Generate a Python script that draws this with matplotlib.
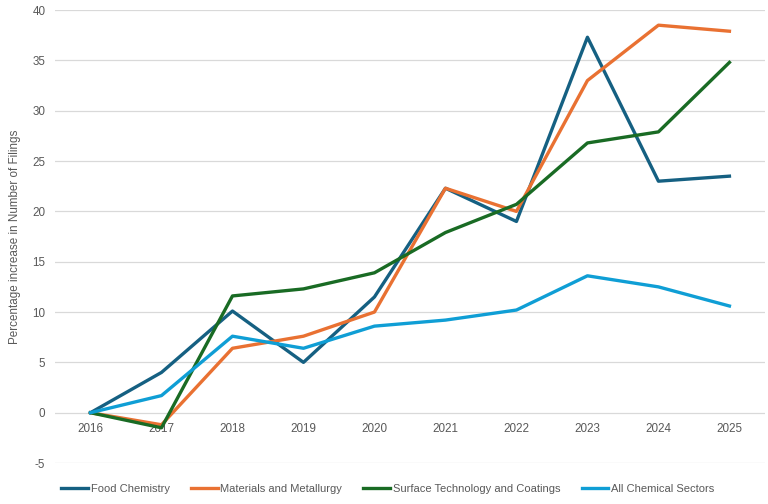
import matplotlib
matplotlib.use("Agg")
import matplotlib.pyplot as plt
import matplotlib.transforms as mtransforms

years = ["2016", "2017", "2018", "2019", "2020", "2021", "2022", "2023", "2024", "2025"]
food_chem = [0, 4.0, 10.1, 5.0, 11.5, 22.3, 19.0, 37.3, 23.0, 23.5]
materials = [0, -1.2, 6.4, 7.6, 10.0, 22.3, 20.0, 33.0, 38.5, 37.9]
surface = [0, -1.5, 11.6, 12.3, 13.9, 17.9, 20.7, 26.8, 27.9, 34.8]
all_chem = [0, 1.7, 7.6, 6.4, 8.6, 9.2, 10.2, 13.6, 12.5, 10.6]

series = [
    ("Food Chemistry", food_chem, "#156082"),
    ("Materials and Metallurgy", materials, "#E97132"),
    ("Surface Technology and Coatings", surface, "#196B24"),
    ("All Chemical Sectors", all_chem, "#0F9ED5"),
]

plt.rcParams["font.family"] = ["Liberation Sans", "DejaVu Sans"]
plt.rcParams["axes.unicode_minus"] = False
grey = "#595959"

fig = plt.figure(figsize=(7.68, 5.04), dpi=100)
ax = fig.add_axes([0.0716, 0.0813, 0.9244, 0.8987])

x = range(len(years))
for name, vals, col in series:
    ax.plot(x, vals, color=col, linewidth=2.4, label=name)

ax.set_xlim(-0.5, len(years) - 0.5)
ax.set_ylim(-5, 40)
ax.set_yticks(range(-5, 41, 5))
ax.set_xticks(list(x))
ax.set_xticklabels(years)
ax.grid(axis="y", color="#d9d9d9", linewidth=0.9)
ax.set_axisbelow(True)
for s in ax.spines.values():
    s.set_visible(False)
ax.tick_params(axis="both", length=0, labelsize=8.4, colors=grey, pad=7)

# year labels hang just under the zero line, not at the bottom of the axes
below_zero = ax.transData + mtransforms.ScaledTranslation(0, -0.1, fig.dpi_scale_trans)
for lab in ax.get_xticklabels():
    lab.set_transform(below_zero)
    lab.set_y(0)
    lab.set_verticalalignment("top")

ax.set_ylabel("Percentage increase in Number of Filings", fontsize=8.4, color=grey, labelpad=8)

fig.legend(loc="center", bbox_to_anchor=(0.505, 0.030), ncol=4, frameon=False,
           fontsize=8, handlelength=2.4, handletextpad=0.25, columnspacing=1.9,
           labelcolor=grey)

fig.savefig("out.png", dpi=100)
